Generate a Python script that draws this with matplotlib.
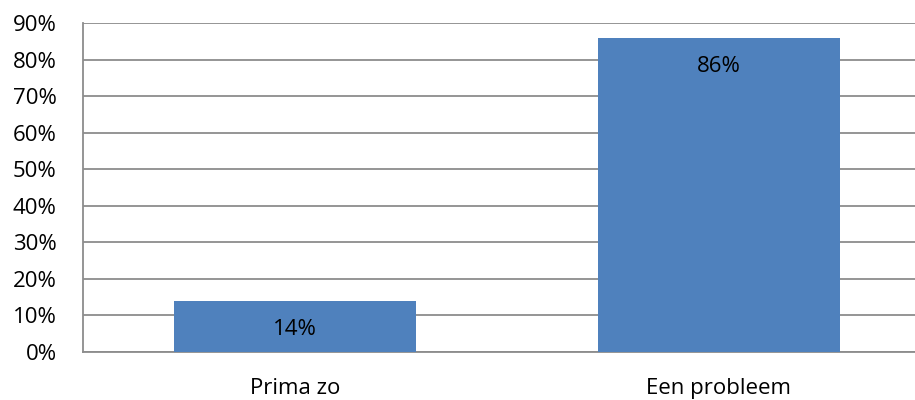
import matplotlib
matplotlib.use("Agg")
import matplotlib.pyplot as plt
from matplotlib.ticker import FuncFormatter

categories = ["Prima zo", "Een probleem"]
values = [14, 86]
value_labels = ["14%", "86%"]
yticks = [0, 10, 20, 30, 40, 50, 60, 70, 80, 90]

plt.rcParams['font.family'] = ['Open Sans', 'DejaVu Sans']

fig = plt.figure(figsize=(9.15, 4.0), dpi=100)
# the axes extends slightly past the right edge of the figure (cropped as in reference)
ax = fig.add_axes([0.0909, 0.12, 0.926, 0.8225])

x = list(range(len(categories)))
bars = ax.bar(x, values, width=0.571, color="#4F81BD", zorder=3)
ax.set_xlim(-0.5, len(categories) - 0.5)
ax.set_ylim(0, 90)
ax.set_yticks(yticks)
ax.yaxis.set_major_formatter(FuncFormatter(lambda v, p: f"{int(v)}%"))
ax.set_xticks(x)
ax.set_xticklabels(categories)
ax.tick_params(axis='both', length=0, colors="#000000", labelsize=16)
ax.tick_params(axis='x', pad=19)
ax.tick_params(axis='y', pad=19)
ax.grid(axis='y', color="#8C8C8C", linewidth=1.3, zorder=0)
for s in ["top", "right"]:
    ax.spines[s].set_visible(False)
for s in ["left", "bottom"]:
    ax.spines[s].set_color("#8C8C8C")
    ax.spines[s].set_linewidth(1.3)

for b, lab in zip(bars, value_labels):
    ax.annotate(lab, (b.get_x() + b.get_width() / 2, b.get_height()),
                xytext=(0, -20.5), textcoords="offset points",
                ha="center", va="center", fontsize=16, color="#000000", zorder=4)

fig.savefig("out.png", dpi=100)
